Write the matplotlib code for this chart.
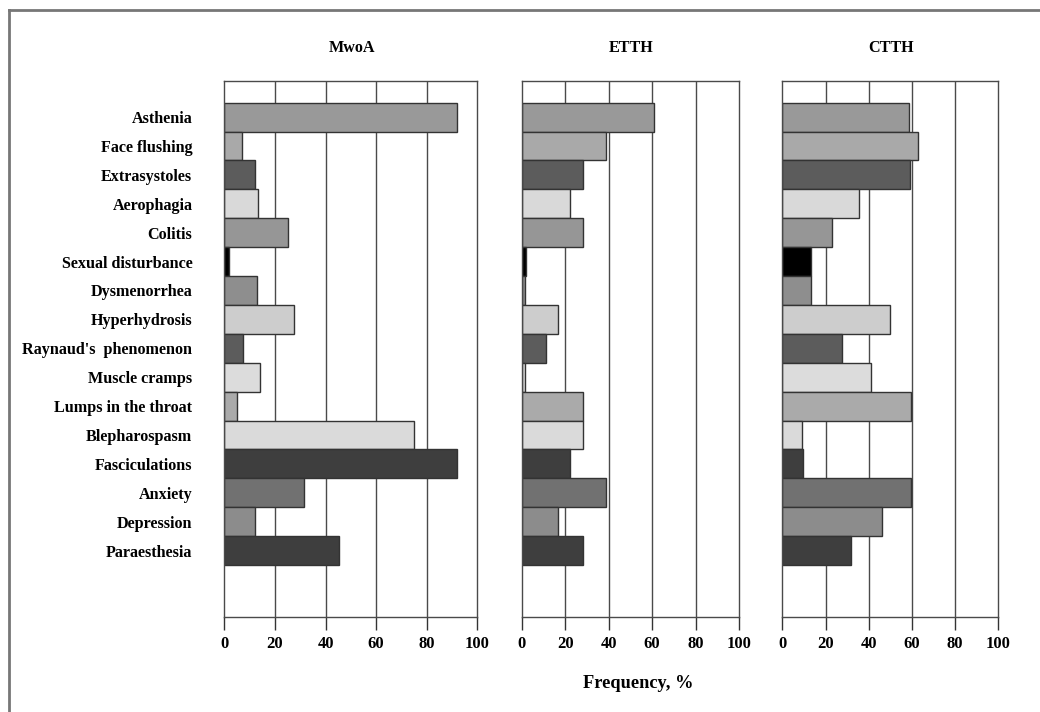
import matplotlib
matplotlib.use("Agg")
import matplotlib.pyplot as plt
from matplotlib.lines import Line2D

categories = ["Asthenia", "Face flushing", "Extrasystoles", "Aerophagia", "Colitis",
              "Sexual disturbance", "Dysmenorrhea", "Hyperhydrosis",
              "Raynaud's  phenomenon", "Muscle cramps", "Lumps in the throat",
              "Blepharospasm", "Fasciculations", "Anxiety", "Depression", "Paraesthesia"]

mwoa = [92, 7, 12, 13.5, 25, 2, 13, 27.5, 7.5, 14, 5, 75, 92, 31.5, 12, 45.5]
etth = [61, 39, 28, 22, 28, 1.8, 1.5, 16.5, 11, 1.7, 28, 28, 22, 39, 16.5, 28]
ctth = [58.5, 63, 59, 35.5, 23, 13.5, 13.5, 50, 27.5, 41, 59.5, 9, 9.5, 59.5, 46, 32]

bar_colors = ["#999999", "#a9a9a9", "#5c5c5c", "#d9d9d9", "#969696", "#000000",
              "#8e8e8e", "#cdcdcd", "#5c5c5c", "#dcdcdc", "#aaaaaa", "#dadada",
              "#3e3e3e", "#717171", "#8c8c8c", "#3e3e3e"]

panel_titles = ["MwoA", "ETTH", "CTTH"]
panel_data = [mwoa, etth, ctth]
xticks = [0, 20, 40, 60, 80, 100]

W, H = 1040, 712
fig = plt.figure(figsize=(W / 100, H / 100), dpi=100)
fig.patch.set_facecolor("white")

font = {"family": "Liberation Serif", "weight": "bold"}

panels_px = [(224.3, 477.3), (521.7, 739.0), (782.3, 998.3)]
top_px, bot_px = 81, 617

ypos = list(range(len(categories)))
for i, (x0, x1) in enumerate(panels_px):
    ax = fig.add_axes([x0 / W, 1 - bot_px / H, (x1 - x0) / W, (bot_px - top_px) / H])
    ax.set_xlim(0, 100)
    ax.set_ylim(17.3, -1.25)
    for g in [20, 40, 60, 80]:
        ax.axvline(g, color="#4a4a4a", lw=1.0, zorder=0)
    ax.barh(ypos, panel_data[i], height=1.0, color=bar_colors,
            edgecolor="#333333", linewidth=1.0, zorder=2)
    for sp in ax.spines.values():
        sp.set_color("#4a4a4a")
        sp.set_linewidth(1.0)
    ax.set_xticks(xticks)
    ax.set_xticklabels([str(t) for t in xticks], fontdict=dict(font, size=12))
    ax.tick_params(axis="x", direction="out", length=9.5, width=1.0,
                   color="#333333", pad=4)
    if i == 0:
        ax.set_yticks(ypos)
        ax.set_yticklabels(categories, fontdict=dict(font, size=11.6))
        ax.tick_params(axis="y", length=0, pad=23)
    else:
        ax.set_yticks([])
    fig.text(((x0 + x1) / 2 + 1) / W, 1 - 48 / H, panel_titles[i],
             ha="center", va="center", fontdict=dict(font, size=11.6))

fig.text(638 / W, 1 - 683 / H, "Frequency, %", ha="center", va="center",
         fontdict=dict(font, size=13.2))

fig.add_artist(Line2D([8.5 / W, 8.5 / W], [0, 1 - 10 / H], color="#777777", lw=2,
                      transform=fig.transFigure))
fig.add_artist(Line2D([8.5 / W, 1], [1 - 10 / H, 1 - 10 / H], color="#777777", lw=2,
                      transform=fig.transFigure))

fig.savefig("out.png", dpi=100, facecolor="white")
